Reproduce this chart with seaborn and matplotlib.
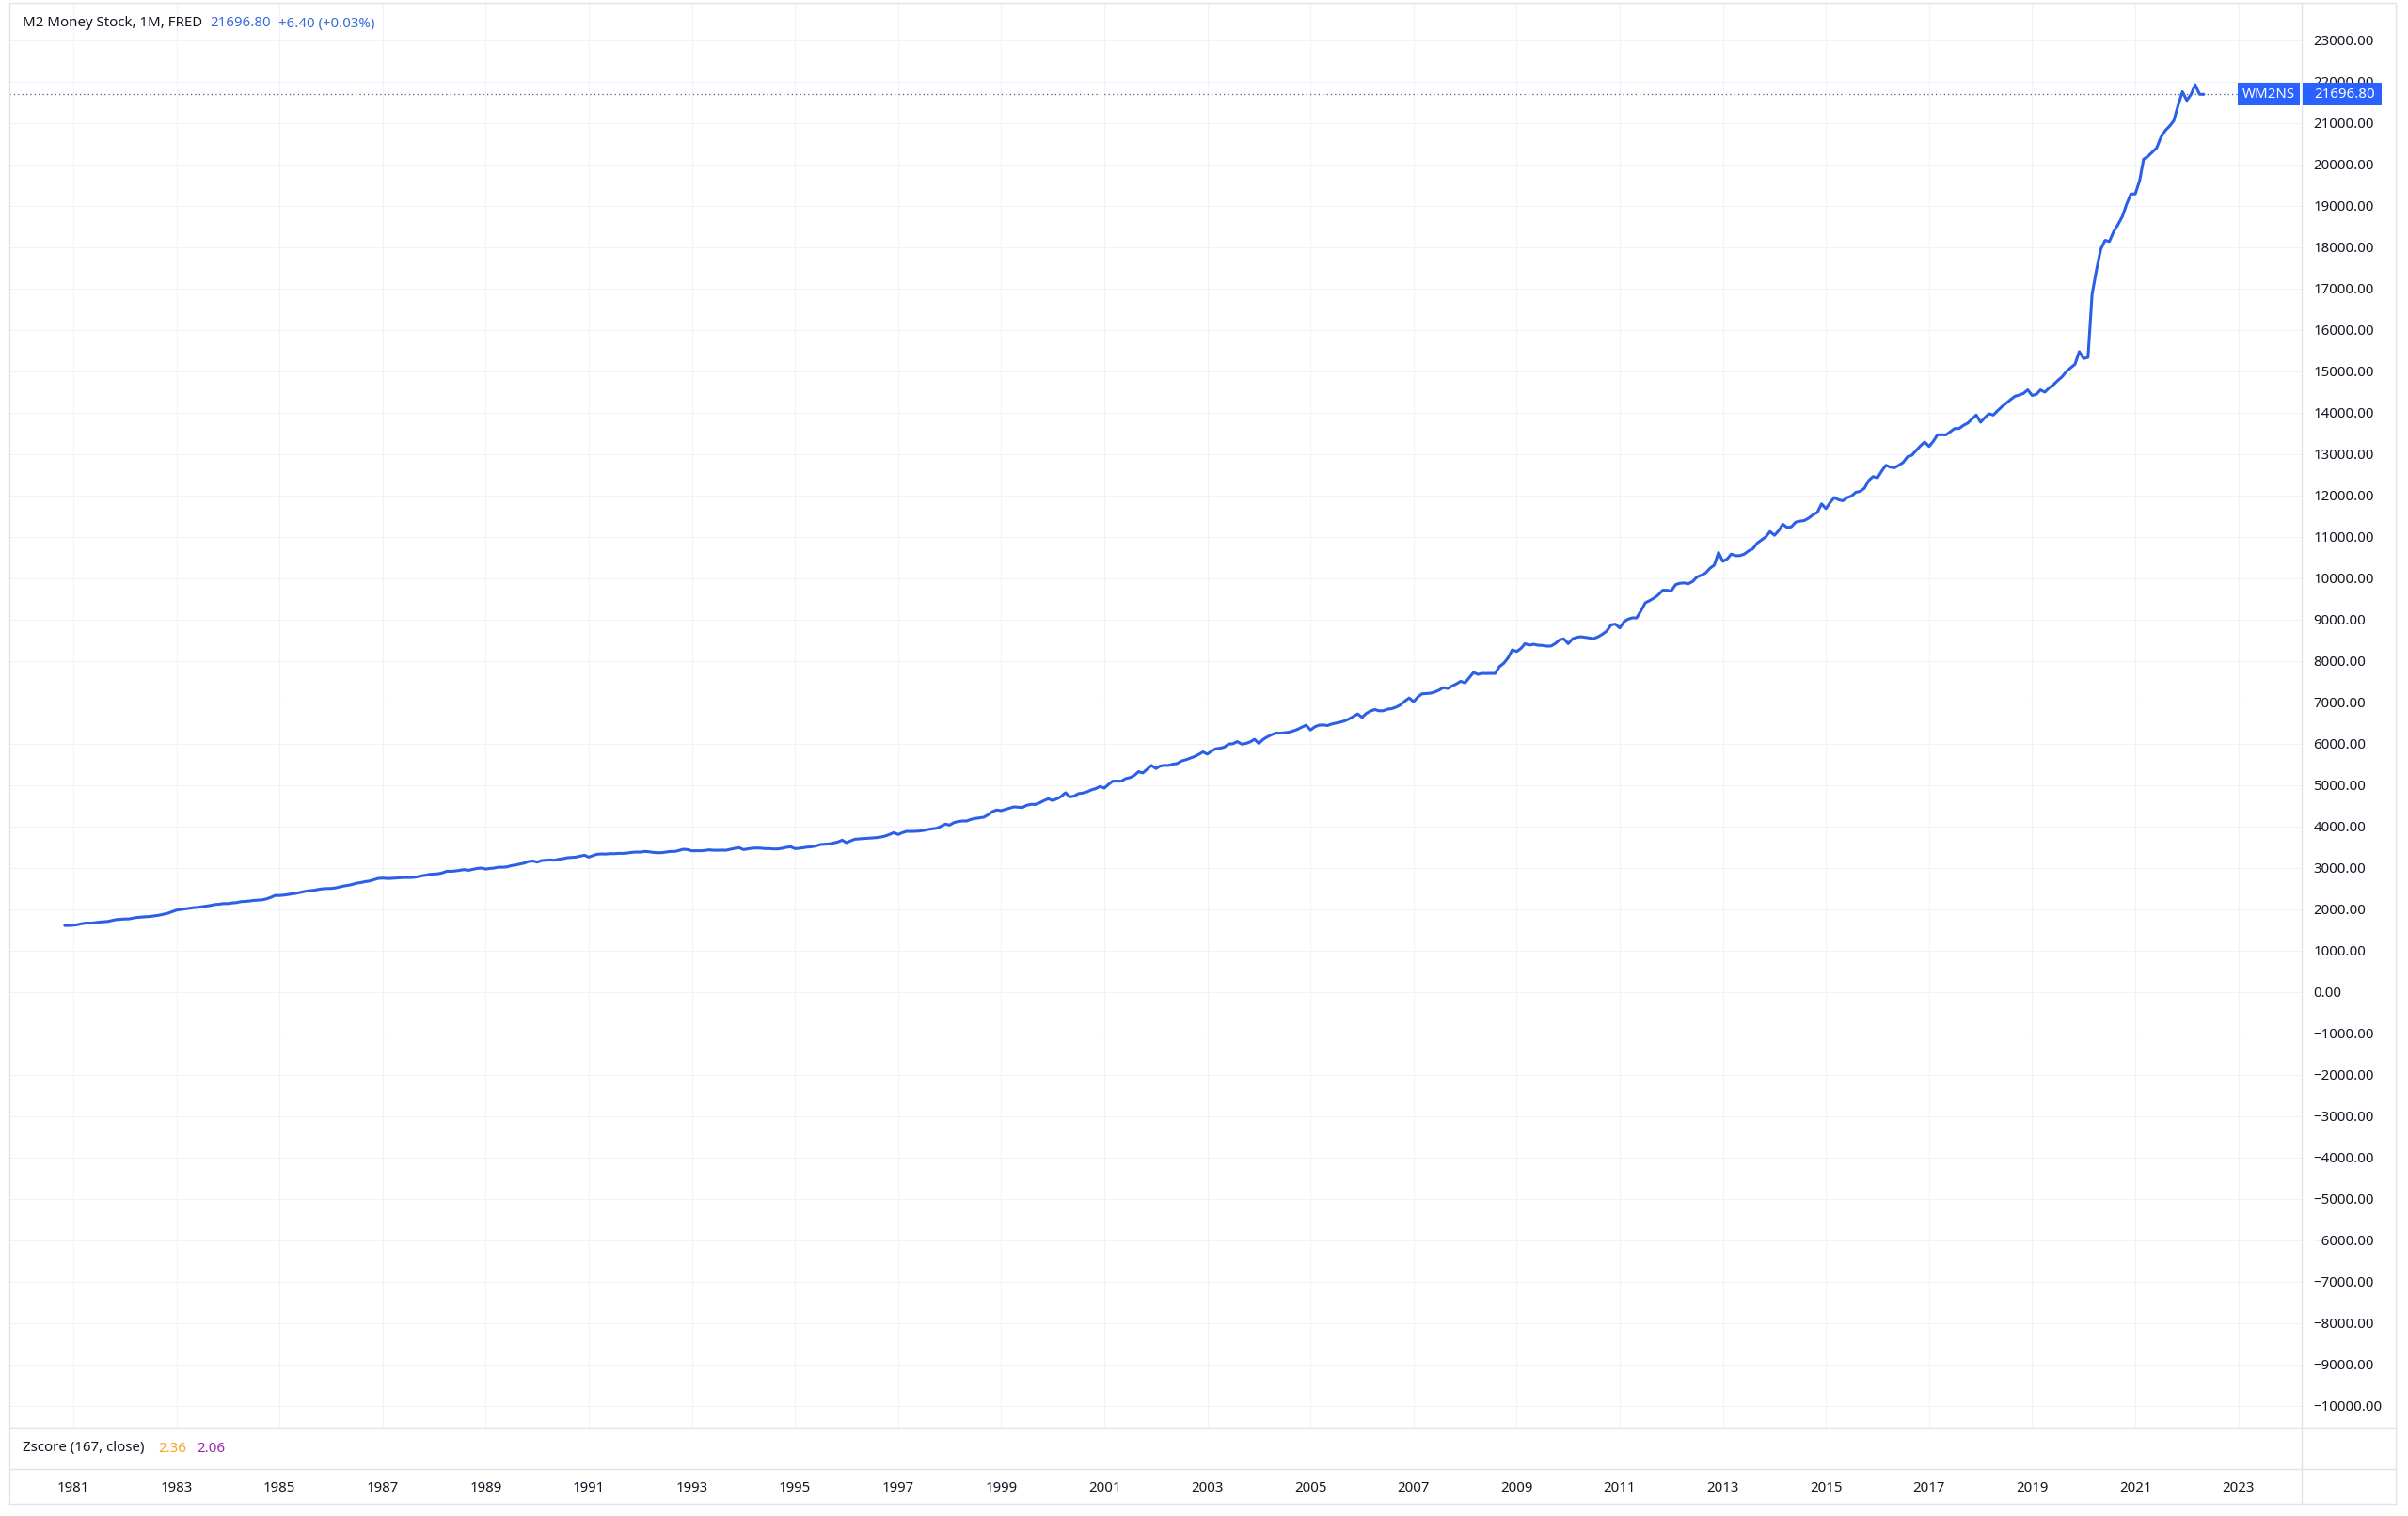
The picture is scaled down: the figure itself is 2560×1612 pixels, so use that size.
import numpy as np
import pandas as pd
import matplotlib
matplotlib.use("Agg")
import matplotlib.pyplot as plt
import matplotlib.dates as mdates
from matplotlib.patches import Rectangle
from matplotlib.lines import Line2D
import seaborn as sns

# ---------------- data (monthly closes, billions USD) ----------------
start_month = "1980-11-01"
m2_1980 = [1610, 1612]
m2_1981 = [1618, 1633, 1655, 1671, 1668, 1678, 1693, 1701, 1709, 1731, 1754, 1762]
m2_1982 = [1769, 1770, 1792, 1807, 1815, 1822, 1830, 1845, 1860, 1883, 1906, 1944]
m2_1983 = [1982, 1997, 2012, 2027, 2042, 2050, 2065, 2080, 2096, 2118, 2126, 2141]
m2_1984 = [2140, 2156, 2164, 2187, 2194, 2202, 2217, 2225, 2232, 2255, 2293, 2338]
m2_1985 = [2336, 2346, 2361, 2376, 2391, 2414, 2437, 2452, 2460, 2482, 2498, 2505]
m2_1986 = [2506, 2520, 2543, 2566, 2581, 2604, 2634, 2649, 2672, 2687, 2718, 2748]
m2_1987 = [2756, 2748, 2749, 2756, 2763, 2771, 2770, 2772, 2786, 2809, 2824, 2847]
m2_1988 = [2854, 2862, 2885, 2923, 2920, 2930, 2945, 2961, 2945, 2968, 2991, 2999]
m2_1989 = [2976, 2991, 2999, 3021, 3020, 3029, 3059, 3074, 3097, 3120, 3158, 3170]
m2_1990 = [3143, 3181, 3188, 3196, 3188, 3211, 3226, 3249, 3257, 3264, 3287, 3310]
m2_1991 = [3264, 3302, 3333, 3340, 3338, 3348, 3346, 3355, 3354, 3363, 3378, 3386]
m2_1992 = [3385, 3401, 3393, 3378, 3370, 3371, 3386, 3401, 3400, 3424, 3454, 3446]
m2_1993 = [3416, 3418, 3417, 3424, 3439, 3431, 3430, 3432, 3431, 3454, 3477, 3492]
m2_1994 = [3446, 3461, 3477, 3484, 3482, 3469, 3470, 3461, 3462, 3477, 3500, 3515]
m2_1995 = [3469, 3477, 3492, 3507, 3515, 3537, 3568, 3576, 3583, 3606, 3629, 3674]
m2_1996 = [3613, 3659, 3697, 3704, 3712, 3720, 3727, 3735, 3750, 3773, 3811, 3856]
m2_1997 = [3811, 3856, 3886, 3885, 3887, 3894, 3909, 3932, 3947, 3962, 4008, 4061]
m2_1998 = [4038, 4099, 4122, 4137, 4136, 4175, 4198, 4213, 4228, 4289, 4365, 4402]
m2_1999 = [4387, 4418, 4448, 4478, 4470, 4463, 4516, 4539, 4538, 4577, 4630, 4675]
m2_2000 = [4630, 4675, 4728, 4819, 4721, 4736, 4797, 4812, 4842, 4888, 4918, 4971]
m2_2001 = [4933, 5024, 5100, 5101, 5099, 5161, 5184, 5237, 5328, 5298, 5389, 5480]
m2_2002 = [5404, 5465, 5480, 5479, 5510, 5525, 5586, 5616, 5654, 5692, 5745, 5806]
m2_2003 = [5753, 5829, 5882, 5897, 5920, 5996, 6003, 6056, 5996, 6011, 6049, 6110]
m2_2004 = [6011, 6110, 6170, 6223, 6261, 6260, 6269, 6284, 6314, 6352, 6405, 6451]
m2_2005 = [6337, 6413, 6451, 6458, 6443, 6481, 6504, 6527, 6557, 6603, 6663, 6724]
m2_2006 = [6641, 6739, 6792, 6830, 6800, 6801, 6838, 6853, 6891, 6944, 7035, 7111]
m2_2007 = [7020, 7134, 7210, 7217, 7225, 7255, 7301, 7361, 7339, 7399, 7452, 7513]
m2_2008 = [7475, 7604, 7726, 7680, 7703, 7702, 7704, 7703, 7870, 7946, 8082, 8272]
m2_2009 = [8234, 8310, 8423, 8385, 8408, 8385, 8380, 8363, 8365, 8423, 8514, 8537]
m2_2010 = [8423, 8540, 8575, 8590, 8575, 8560, 8545, 8590, 8651, 8727, 8879, 8894]
m2_2011 = [8803, 8955, 9015, 9046, 9045, 9220, 9410, 9463, 9524, 9600, 9713, 9713]
m2_2012 = [9698, 9850, 9880, 9890, 9870, 9926, 10032, 10077, 10130, 10244, 10320, 10624]
m2_2013 = [10411, 10472, 10586, 10548, 10550, 10586, 10662, 10715, 10852, 10928, 11003, 11132]
m2_2014 = [11041, 11155, 11307, 11231, 11246, 11360, 11383, 11398, 11458, 11534, 11595, 11800]
m2_2015 = [11686, 11838, 11952, 11899, 11876, 11952, 11990, 12081, 12104, 12180, 12369, 12460]
m2_2016 = [12430, 12597, 12733, 12688, 12673, 12733, 12802, 12938, 12976, 13090, 13204, 13295]
m2_2017 = [13189, 13318, 13469, 13470, 13468, 13545, 13621, 13620, 13697, 13750, 13849, 13947]
m2_2018 = [13773, 13887, 13978, 13947, 14050, 14150, 14230, 14320, 14400, 14430, 14470, 14555]
m2_2019 = [14420, 14450, 14555, 14500, 14600, 14680, 14780, 14870, 15000, 15090, 15175, 15480]
m2_2020 = [15313, 15340, 16870, 17450, 17950, 18170, 18140, 18380, 18555, 18743, 19046, 19290]
m2_2021 = [19290, 19615, 20130, 20200, 20298, 20400, 20655, 20820, 20929, 21060, 21437, 21760]
m2_2022 = [21550, 21700, 21930, 21700, 21696.80]

m2_values = (m2_1980 + m2_1981 + m2_1982 + m2_1983 + m2_1984 + m2_1985 + m2_1986
             + m2_1987 + m2_1988 + m2_1989 + m2_1990 + m2_1991 + m2_1992 + m2_1993
             + m2_1994 + m2_1995 + m2_1996 + m2_1997 + m2_1998 + m2_1999 + m2_2000
             + m2_2001 + m2_2002 + m2_2003 + m2_2004 + m2_2005 + m2_2006 + m2_2007
             + m2_2008 + m2_2009 + m2_2010 + m2_2011 + m2_2012 + m2_2013 + m2_2014
             + m2_2015 + m2_2016 + m2_2017 + m2_2018 + m2_2019 + m2_2020 + m2_2021
             + m2_2022)

year_ticks = list(range(1981, 2024, 2))
price_ticks = list(range(-10000, 23001, 1000))

title_text = "M2 Money Stock, 1M, FRED"
last_value = 21696.80
change_text = "+6.40 (+0.03%)"
symbol = "WM2NS"
zscore_label = "Zscore (167, close)"
zscore_values = ["2.36", "2.06"]

# ---------------- style ----------------
sns.set_style("white")
plt.rcParams["font.family"] = ["Noto Sans", "DejaVu Sans"]

LINE = "#2b5fe6"
BLUE_TXT = "#3a6bd9"
LABEL_BG = "#2962ff"
TXT = "#131722"
GRID = "#f0f3fa"
BORDER = "#e0e3eb"
FS = 10.8

W, H = 2560, 1612
fig = plt.figure(figsize=(W / 100, H / 100), dpi=100)
fig.patch.set_facecolor("white")


def fx(px):
    return px / W


def fy(py):
    return 1 - py / H


L, R, RR = 10, 2447, 2547
T, B1, B2, B3 = 3, 1518, 1562, 1599

ax = fig.add_axes([fx(L), fy(B1), (R - L) / W, (B1 - T) / H])
axz = fig.add_axes([fx(L), fy(B2), (R - L) / W, (B2 - B1) / H], sharex=ax)

dates = pd.date_range(start_month, periods=len(m2_values), freq="MS")
df = pd.DataFrame({"date": dates, "value": m2_values})
sns.lineplot(data=df, x="date", y="value", ax=ax, color=LINE, linewidth=2.2, zorder=3)

# x calibration: Jan-1981 at px 78, Jan-2023 at px 2379.6
x0 = mdates.date2num(pd.Timestamp("1981-01-01"))
x1 = mdates.date2num(pd.Timestamp("2023-01-01"))
sx = (x1 - x0) / (2379.6 - 78)
ax.set_xlim(x0 + (L - 78) * sx, x0 + (R - 78) * sx)

# y calibration: 23000 at px 43, -10000 at px 1495
sy = 33000 / (1495 - 43)
ytop = 23000 + (43 - T) * sy
ybot = -10000 - (B1 - 1495) * sy
ax.set_ylim(ybot, ytop)

ax.set_xticks([pd.Timestamp(f"{y}-01-01") for y in year_ticks])
ax.xaxis.set_major_formatter(mdates.DateFormatter("%Y"))
ax.set_yticks(price_ticks)
ax.set_yticklabels([f"{v:.2f}".replace("-", "\u2212") for v in price_ticks])
ax.yaxis.tick_right()
ax.tick_params(axis="y", length=0, pad=9, labelsize=FS, labelcolor=TXT)
ax.tick_params(axis="x", length=0, labelbottom=False)
ax.grid(True, color=GRID, linewidth=0.8)
ax.set_axisbelow(True)
ax.set_xlabel("")
ax.set_ylabel("")
for s in ax.spines.values():
    s.set_visible(False)

ax.axhline(last_value, color="#3b5998", linewidth=0.9, linestyle=(0, (1, 2.5)), zorder=2)

axz.set_yticks([])
axz.tick_params(axis="x", length=0, pad=9, labelsize=FS, labelcolor=TXT, labelbottom=True)
axz.grid(False)
axz.set_xlabel("")
for s in axz.spines.values():
    s.set_visible(False)

# ---------------- frame lines ----------------
def hline(py, xa, xb):
    fig.add_artist(Line2D([fx(xa), fx(xb)], [fy(py), fy(py)], transform=fig.transFigure,
                          color=BORDER, linewidth=1.0, zorder=5))


def vline(px, ya, yb):
    fig.add_artist(Line2D([fx(px), fx(px)], [fy(ya), fy(yb)], transform=fig.transFigure,
                          color=BORDER, linewidth=1.0, zorder=5))


hline(T, L, RR)
hline(B1, L, RR)
hline(B2, L, RR)
hline(B3, L, RR)
vline(L, T, B3)
vline(R, T, B3)
vline(RR, T, B3)

# ---------------- last price labels ----------------
py_last = T + (ytop - last_value) / (ytop - ybot) * (B1 - T)
bh = 24
fig.add_artist(Rectangle((fx(2379), fy(py_last + bh / 2)), (2445 - 2379) / W, bh / H,
                         transform=fig.transFigure, facecolor=LABEL_BG, edgecolor="none", zorder=6))
fig.add_artist(Rectangle((fx(2448), fy(py_last + bh / 2)), (2532 - 2448) / W, bh / H,
                         transform=fig.transFigure, facecolor=LABEL_BG, edgecolor="none", zorder=6))
fig.text(fx(2412), fy(py_last), symbol, color="white", ha="center", va="center",
         fontsize=FS, fontweight="bold", zorder=7)
fig.text(fx(2460), fy(py_last), f"{last_value:.2f}", color="white", ha="left", va="center",
         fontsize=FS, fontweight="bold", zorder=7)

# ---------------- legend texts ----------------
fig.text(fx(24), fy(25), title_text, color=TXT, fontsize=FS, va="center")
fig.text(fx(223), fy(25), f"{last_value:.2f}", color=BLUE_TXT, fontsize=FS, va="center")
fig.text(fx(296), fy(25), change_text, color=BLUE_TXT, fontsize=FS, va="center")

fig.text(fx(24), fy(1540), zscore_label, color=TXT, fontsize=FS, va="center")
fig.text(fx(168), fy(1540), zscore_values[0], color="#f5a623", fontsize=FS, va="center")
fig.text(fx(209), fy(1540), zscore_values[1], color="#9c27b0", fontsize=FS, va="center")

fig.savefig("out.png", dpi=100, facecolor="white")
